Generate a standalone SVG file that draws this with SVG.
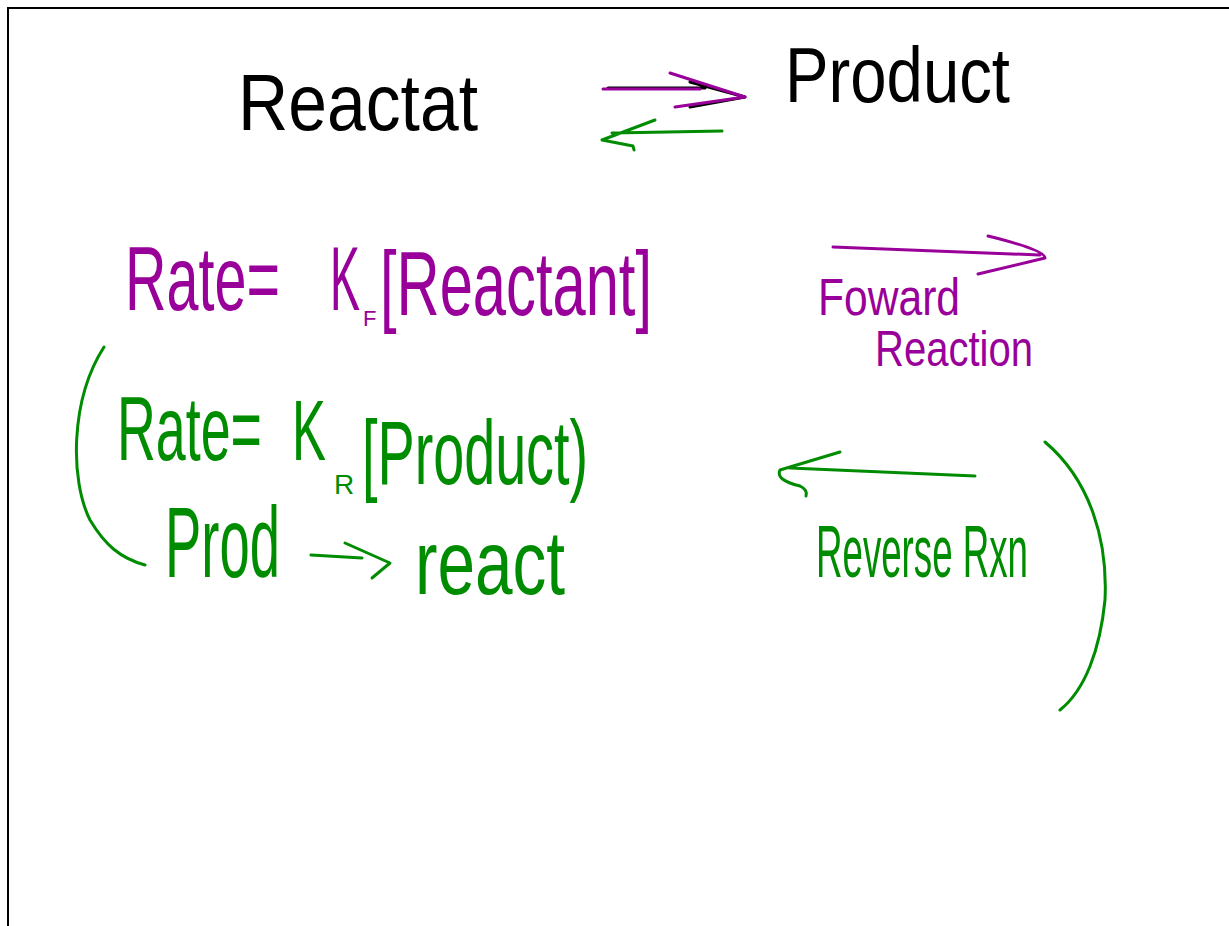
<svg xmlns="http://www.w3.org/2000/svg" width="1229" height="926" viewBox="0 0 1229 926">
<style>
.t{font-family:"Liberation Sans Narrow","Liberation Sans",sans-serif;font-weight:normal}
.k{fill:#000}
.p{fill:#990099}
.g{fill:#008c00}
.s{fill:none;stroke-width:3;stroke-linecap:round;stroke-linejoin:round}
.sk{stroke:#000}
.sp{stroke:#990099}
.sg{stroke:#008c00}
</style>
<rect x="0" y="0" width="1229" height="926" fill="#fff"/>
<path d="M8 926 V8 H1229" fill="none" stroke="#000" stroke-width="2"/>

<g id="reactant">
<text class="t k" x="238" y="130" font-size="80" textLength="240" lengthAdjust="spacingAndGlyphs">Reactat</text>
</g>
<g id="product">
<text class="t k" x="785" y="102" font-size="78" textLength="225" lengthAdjust="spacingAndGlyphs">Product</text>
</g>

<g id="connectors">
<path class="s sk" d="M608 88 H705 M690 82 L745 97 L690 107"/>
<path class="s sp" stroke-width="4" d="M603 89 H700 M670 73 L745 97 L675 107"/>
<path class="s sg" d="M722 131 L612 133 M655 120 L602 140 L633 146 L634 150"/>
<path class="s sp" d="M833 247 L1040 255 M988 236 Q1045 250 1045 258 L978 274"/>
<path class="s sg" d="M975 476 L790 468 M840 452 L780 470 Q775 480 800 486 Q808 490 806 496"/>
<path class="s sg" d="M311 555 L362 558 M345 543 L390 563 L372 578"/>
<path class="s sg" d="M104 347 C70 400 70 480 90 520 C105 545 120 558 145 565"/>
<path class="s sg" d="M1045 442 C1090 480 1108 540 1105 600 C1100 650 1085 690 1060 710"/>
</g>

<g id="rate-forward">
<text class="t p" font-size="90"><tspan x="125" y="310" textLength="155" lengthAdjust="spacingAndGlyphs">Rate=</tspan><tspan x="330" y="310" textLength="30" lengthAdjust="spacingAndGlyphs">K</tspan><tspan x="363" y="326" font-size="22">F</tspan><tspan x="380" y="315" textLength="272" lengthAdjust="spacingAndGlyphs">[Reactant]</tspan></text>
</g>

<g id="forward-label">
<text class="t p" x="818" y="315" font-size="52" textLength="142" lengthAdjust="spacingAndGlyphs">Foward</text>
<text class="t p" x="875" y="366" font-size="50" textLength="158" lengthAdjust="spacingAndGlyphs">Reaction</text>
</g>

<g id="rate-reverse">
<text class="t g" font-size="90"><tspan x="117" y="460" textLength="145" lengthAdjust="spacingAndGlyphs">Rate=</tspan><tspan x="292" y="460" font-size="86" textLength="34" lengthAdjust="spacingAndGlyphs">K</tspan><tspan x="334" y="494" font-size="28">R</tspan><tspan x="362" y="484" textLength="226" lengthAdjust="spacingAndGlyphs">[Product)</tspan></text>
</g>

<g id="prod-react">
<text class="t g" x="165" y="577" font-size="100" textLength="115" lengthAdjust="spacingAndGlyphs">Prod</text>
<text class="t g" x="415" y="594" font-size="90" textLength="150" lengthAdjust="spacingAndGlyphs">react</text>
</g>

<g id="reverse-label">
<text class="t g" x="816" y="577" font-size="74" textLength="212" lengthAdjust="spacingAndGlyphs">Reverse Rxn</text>
</g>
</svg>
